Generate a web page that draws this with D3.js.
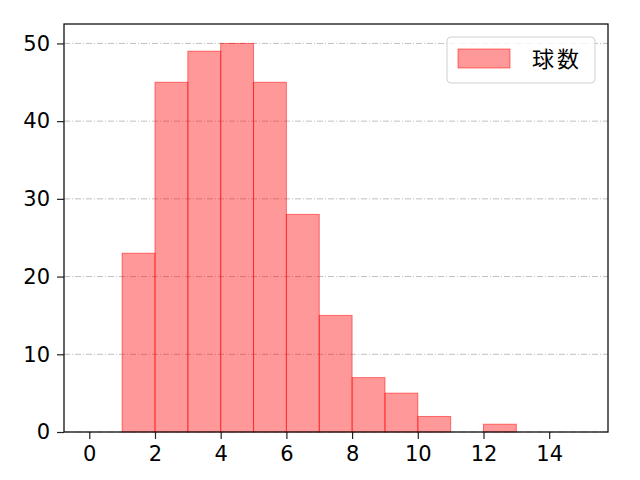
<!DOCTYPE html>
<html>
<head>
<meta charset="utf-8">
<script src="https://cdn.jsdelivr.net/npm/d3@7"></script>
<style>
  body { margin: 0; background: #fff; }
  svg { font-family: "Noto Sans CJK JP", "DejaVu Sans", sans-serif; }
  .tick text { font-family: "DejaVu Sans", sans-serif; font-size: 21px; fill: #000; }
</style>
</head>
<body>
<svg id="chart" width="640" height="480"></svg>
<script>
// histogram bins (left edge) and counts
const binStarts = [1, 2, 3, 4, 5, 6, 7, 8, 9, 10, 11, 12];
const counts = [23, 45, 49, 50, 45, 28, 15, 7, 5, 2, 0, 1];
const binWidth = 1;
const xTicks = [0, 2, 4, 6, 8, 10, 12, 14];
const yTicks = [0, 10, 20, 30, 40, 50];
const seriesName = "球数";

const margin = {left: 64, right: 32, top: 24, bottom: 48};
const width = 640, height = 480;

const svg = d3.select('#chart');

const x = d3.scaleLinear()
    .domain([-0.77, 15.79])
    .range([margin.left, width - margin.right]);

const y = d3.scaleLinear()
    .domain([0, 52.5])
    .range([height - margin.bottom, margin.top]);

// grid lines (y only)
svg.append('g')
    .selectAll('line')
    .data(yTicks)
    .enter()
    .append('line')
    .attr('x1', margin.left)
    .attr('x2', width - margin.right)
    .attr('y1', d => y(d))
    .attr('y2', d => y(d))
    .attr('stroke', '#b0b0b0')
    .attr('stroke-width', 0.8)
    .attr('stroke-dasharray', '6,2,1,2');

// bars
const data = binStarts.map((b, i) => ({start: b, value: counts[i]}));
svg.append('g')
    .selectAll('rect')
    .data(data.filter(d => d.value > 0))
    .enter()
    .append('rect')
    .attr('x', d => x(d.start))
    .attr('y', d => y(d.value))
    .attr('width', d => x(d.start + binWidth) - x(d.start))
    .attr('height', d => y(0) - y(d.value))
    .attr('fill', 'rgba(255,0,0,0.4)')
    .attr('stroke', 'rgba(255,0,0,0.5)')
    .attr('stroke-width', 1);

// axes
const xAxis = d3.axisBottom(x)
    .tickValues(xTicks)
    .tickSize(7)
    .tickPadding(7)
    .tickSizeOuter(0);

const yAxis = d3.axisLeft(y)
    .tickValues(yTicks)
    .tickSize(7)
    .tickPadding(7)
    .tickSizeOuter(0);

const gx = svg.append('g')
    .attr('transform', `translate(0,${height - margin.bottom})`)
    .call(xAxis);
gx.select('.domain').remove();
gx.selectAll('line').attr('stroke', '#222').attr('stroke-width', 1.2);

const gy = svg.append('g')
    .attr('transform', `translate(${margin.left},0)`)
    .call(yAxis);
gy.select('.domain').remove();
gy.selectAll('line').attr('stroke', '#222').attr('stroke-width', 1.2);

// frame
svg.append('rect')
    .attr('x', margin.left)
    .attr('y', margin.top)
    .attr('width', width - margin.left - margin.right)
    .attr('height', height - margin.top - margin.bottom)
    .attr('fill', 'none')
    .attr('stroke', '#111')
    .attr('stroke-width', 1.3);

// legend
const lg = svg.append('g').attr('transform', 'translate(447,37)');
lg.append('rect')
    .attr('width', 148)
    .attr('height', 46)
    .attr('rx', 4)
    .attr('fill', 'rgba(255,255,255,0.8)')
    .attr('stroke', '#d0d0d0');
lg.append('rect')
    .attr('x', 11)
    .attr('y', 12)
    .attr('width', 52)
    .attr('height', 19)
    .attr('fill', 'rgba(255,0,0,0.4)')
    .attr('stroke', 'rgba(255,0,0,0.5)');
lg.append('text')
    .attr('x', 85)
    .attr('y', 30)
    .attr('font-size', 22)
    .attr('letter-spacing', 3)
    .attr('fill', '#000')
    .text(seriesName);
</script>
</body>
</html>
